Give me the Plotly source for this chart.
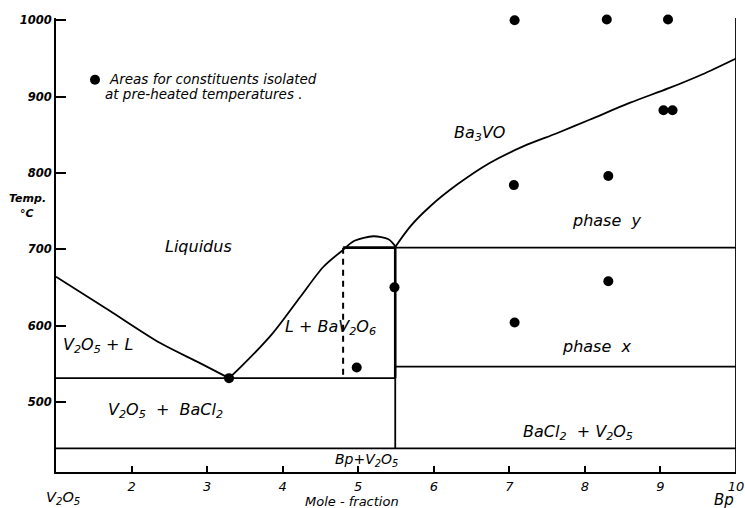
import plotly.graph_objects as go

# ---- data (mole fraction, temperature °C) ----
liq_left_x = [1.0, 1.7, 2.38, 2.9, 3.29]
liq_left_t = [664, 620, 577, 551, 531]

liq_right_x = [3.29, 3.44, 3.87, 4.23, 4.54, 4.80]
liq_right_t = [531, 545, 590, 637, 677, 699]

dome_x = [4.80, 4.95, 5.2, 5.4, 5.49]
dome_t = [699, 711, 717, 713, 704]

ba3vo_x = [5.49, 5.69, 5.95, 6.30, 6.74, 7.19, 7.63, 8.07, 8.60, 9.11, 9.55, 10.0]
ba3vo_t = [703, 730, 756, 784, 813, 835, 852, 870, 892, 911, 929, 950]

eutectic_t = 531
phase_y_t = 702
phase_x_t = 546
lower_t = 439
split_x = 5.49
dashed_x = 4.80

dots_x = [3.29, 4.98, 5.48, 7.07, 8.31, 7.06, 8.31, 9.04, 9.16, 7.07, 8.29, 9.1]
dots_t = [531, 545, 650, 604, 658, 784, 796, 882, 882, 1000, 1001, 1001]

legend_dot_x = [1.516]
legend_dot_t = [922]

xtick_vals = [2, 3, 4, 5, 6, 7, 8, 9, 10]
xtick_text = ["2", "3", "4", "5", "6", "7", "8", "9", "10"]
ytick_vals = [500, 600, 700, 800, 900, 1000]
ytick_text = ["500", "600", "700", "800", "900", "1000"]

XMIN, XMAX = 1, 10
YMIN, YMAX = 408, 1003

FONT = "DejaVu Sans"
K = "black"

fig = go.Figure()

def line(x, y, width=1.8, dash="solid", shape="linear"):
    fig.add_trace(go.Scatter(x=x, y=y, mode="lines", hoverinfo="skip",
                             line=dict(color=K, width=width, dash=dash, shape=shape,
                                       smoothing=0.8),
                             showlegend=False, cliponaxis=False))

line(liq_left_x, liq_left_t, shape="spline")
line(liq_right_x, liq_right_t, shape="spline")
line(dome_x, dome_t, shape="spline")
line(ba3vo_x, ba3vo_t, shape="spline")
# horizontal boundaries
line([XMIN, split_x], [eutectic_t, eutectic_t])
line([dashed_x, split_x], [phase_y_t, phase_y_t], width=2.6)
line([split_x, XMAX], [phase_y_t, phase_y_t])
line([split_x, XMAX], [phase_x_t, phase_x_t])
line([XMIN, XMAX], [lower_t, lower_t])
# verticals
line([split_x, split_x], [dome_t[-1], eutectic_t], width=2.6)
line([split_x, split_x], [eutectic_t, lower_t])
line([dashed_x, dashed_x], [phase_y_t, eutectic_t], width=2, dash="6px,5px")
line([XMAX, XMAX], [YMIN, YMAX])

fig.add_trace(go.Scatter(x=dots_x, y=dots_t, mode="markers", hoverinfo="skip",
                         marker=dict(color=K, size=10), showlegend=False, cliponaxis=False))
fig.add_trace(go.Scatter(x=legend_dot_x, y=legend_dot_t, mode="markers", hoverinfo="skip",
                         marker=dict(color=K, size=10), showlegend=False, cliponaxis=False))

def label(x, y, text, size=16, xanchor="center", ref="data", weight="normal"):
    xr, yr = ("x", "y") if ref == "data" else ("paper", "paper")
    fig.add_annotation(x=x, y=y, xref=xr, yref=yr, text=text, showarrow=False,
                       xanchor=xanchor, yanchor="middle",
                       font=dict(family=FONT, size=size, color=K, style="italic",
                                 weight=weight))

sub = lambda s: f"<sub>{s}</sub>"
V2O5 = f"V{sub('2')}O{sub('5')}"

label(1.671, 923, "Areas for constituents isolated", size=13.5, xanchor="left")
label(1.622, 904, "at pre-heated temperatures .", size=13.5, xanchor="left")
label(6.60, 851, f"Ba{sub('3')}VO")
label(8.28, 738, "phase  y")
label(2.89, 703, "Liquidus")
label(4.63, 597, f"L + BaV{sub('2')}O{sub('6')}")
label(8.16, 573, "phase  x")
label(1.556, 574, f"{V2O5} + L")
label(2.443, 489, f"{V2O5}  +  BaCl{sub('2')}")
label(7.908, 460, f"BaCl{sub('2')}  + {V2O5}")
label(5.116, 424, f"Bp+{V2O5}", size=14)
# texts outside the plotting area (paper coordinates)
label(-0.042, 0.603, "Temp.", size=11, ref="paper", weight="bold")
label(-0.043, 0.570, "°C", size=11, ref="paper", weight="bold")
label(0.010, -0.058, V2O5, size=14.5, ref="paper")
label(0.435, -0.064, "Mole - fraction", size=13, ref="paper")
label(0.983, -0.062, "Bp", size=15, ref="paper")

fig.update_xaxes(range=[XMIN, XMAX], showgrid=False, zeroline=False, automargin=False,
                 showline=True, linecolor=K, linewidth=2,
                 ticks="inside", ticklen=6, tickwidth=1.5, tickcolor=K,
                 tickvals=xtick_vals, ticktext=xtick_text, ticklabelstandoff=1,
                 ticklabeloverflow="allow",
                 tickfont=dict(family=FONT, size=13, color=K, style="italic"))
fig.update_yaxes(range=[YMIN, YMAX], showgrid=False, zeroline=False, automargin=False,
                 showline=True, linecolor=K, linewidth=2,
                 ticks="inside", ticklen=10, tickwidth=1.5, tickcolor=K,
                 tickvals=ytick_vals, ticktext=ytick_text,
                 tickfont=dict(family=FONT, size=11.5, color=K, style="italic", weight="bold"))

# plot area lands at x: 56..736 px, y: 18..472 px of the 745x508 page
fig.update_layout(width=745, height=508, plot_bgcolor="white", paper_bgcolor="white",
                  margin=dict(l=56, r=9, t=18, b=36), showlegend=False)

fig.write_html("out.html", config={"displayModeBar": False},
               post_script="document.body.style.margin='0';document.body.style.overflow='hidden';")
